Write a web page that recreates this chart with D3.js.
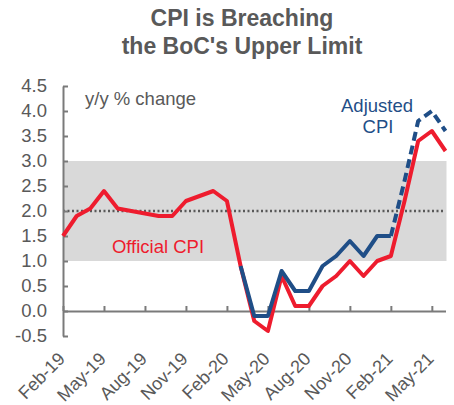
<!DOCTYPE html>
<html>
<head>
<meta charset="utf-8">
<script src="https://cdn.jsdelivr.net/npm/d3@7"></script>
<style>
  body { margin: 0; background: #fff; }
  svg { display: block; font-family: 'Liberation Sans', Arial, sans-serif; }
</style>
</head>
<body>
<script>
const width = 454;
const height = 405;

// months Feb-19 .. Jun-21
const months = ['Feb-19','Mar-19','Apr-19','May-19','Jun-19','Jul-19','Aug-19','Sep-19','Oct-19','Nov-19','Dec-19','Jan-20',
  'Feb-20','Mar-20','Apr-20','May-20','Jun-20','Jul-20','Aug-20','Sep-20','Oct-20','Nov-20','Dec-20','Jan-21',
  'Feb-21','Mar-21','Apr-21','May-21','Jun-21'];
const official = [1.5,1.9,2.05,2.4,2.05,2.0,1.95,1.9,1.9,2.2,2.3,2.4,2.2,0.9,-0.2,-0.4,0.7,0.1,0.1,0.5,0.7,1.0,0.7,1.0,1.1,2.2,3.4,3.6,3.2];
const adjusted = [null,null,null,null,null,null,null,null,null,null,null,null,null,
  0.9,-0.1,-0.1,0.8,0.4,0.4,0.9,1.1,1.4,1.1,1.5,1.5,2.6,3.8,4.0,3.6];
const dashFrom = 24; // adjusted is dashed from Feb-21 on
const xLabels = ['Feb-19','May-19','Aug-19','Nov-19','Feb-20','May-20','Aug-20','Nov-20','Feb-21','May-21'];
const yTicks = [-0.5,0,0.5,1,1.5,2,2.5,3,3.5,4,4.5];
const band = [1, 3];
const target = 2;

const textCol = '#595959';
const axisCol = '#7a7a7a';
const red = '#EE1C2E';
const blue = '#1F4E87';

const svg = d3.select('body').append('svg').attr('width', width).attr('height', height);

const x = d3.scaleLinear().domain([0, months.length - 1]).range([63, 445.5]);
const y = d3.scaleLinear().domain([-0.5, 4.5]).range([336, 86]);

// title
svg.append('text').attr('x', 242).attr('y', 26).attr('text-anchor', 'middle')
  .attr('font-size', 23).attr('font-weight', 'bold').attr('fill', textCol)
  .text('CPI is Breaching');
svg.append('text').attr('x', 242).attr('y', 53.5).attr('text-anchor', 'middle')
  .attr('font-size', 23).attr('font-weight', 'bold').attr('fill', textCol)
  .text("the BoC's Upper Limit");

// shaded band
svg.append('rect')
  .attr('x', x(0)).attr('y', y(band[1]))
  .attr('width', x(months.length - 1) - x(0) + 1)
  .attr('height', y(band[0]) - y(band[1]))
  .attr('fill', '#d9d9d9');

// dotted 2% line
svg.append('line')
  .attr('x1', x(0)).attr('x2', x(months.length - 1))
  .attr('y1', y(target)).attr('y2', y(target))
  .attr('stroke', textCol).attr('stroke-width', 2.5)
  .attr('stroke-dasharray', '2,2.5');

// y axis
const yAxis = d3.axisLeft(y).tickValues(yTicks).tickSize(-5).tickSizeOuter(0)
  .tickPadding(16).tickFormat(d => d.toFixed(1));
const gy = svg.append('g').attr('transform', `translate(${x(0)},0)`).call(yAxis);
gy.select('.domain').attr('stroke', axisCol).attr('stroke-width', 2);
gy.selectAll('.tick line').attr('stroke', axisCol).attr('stroke-width', 2);
gy.selectAll('.tick text').attr('fill', textCol).attr('font-size', 18.5)
  .attr('font-family', "'Liberation Sans', Arial, sans-serif");

// x axis at zero
const tickIdx = xLabels.map(l => months.indexOf(l));
const xAxis = d3.axisBottom(x).tickValues(tickIdx).tickSize(-5).tickSizeOuter(0).tickFormat('');
const gx = svg.append('g').attr('transform', `translate(0,${y(0)})`).call(xAxis);
gx.select('.domain').attr('stroke', axisCol).attr('stroke-width', 2);
gx.selectAll('.tick line').attr('stroke', axisCol).attr('stroke-width', 2);

// x labels below plot
svg.selectAll('.xlab').data(xLabels).enter().append('text')
  .attr('class', 'xlab')
  .attr('text-anchor', 'end')
  .attr('font-size', 18).attr('fill', textCol)
  .attr('transform', d => `translate(${x(months.indexOf(d)) + 3},360) rotate(-45)`)
  .text(d => d);

// lines
const line = d3.line().defined(d => d[1] != null).x(d => x(d[0])).y(d => y(d[1]));

svg.append('path')
  .attr('d', line(official.map((v, i) => [i, v])))
  .attr('fill', 'none').attr('stroke', red).attr('stroke-width', 4)
  .attr('stroke-linejoin', 'round');

svg.append('path')
  .attr('d', line(adjusted.map((v, i) => [i, i <= dashFrom ? v : null])))
  .attr('fill', 'none').attr('stroke', blue).attr('stroke-width', 4)
  .attr('stroke-linejoin', 'round');

svg.append('path')
  .attr('d', line(adjusted.map((v, i) => [i, i >= dashFrom ? v : null])))
  .attr('fill', 'none').attr('stroke', blue).attr('stroke-width', 4)
  .attr('stroke-dasharray', '9,5').attr('stroke-linejoin', 'round');

// annotations
svg.append('text').attr('x', 85).attr('y', 105).attr('font-size', 18.5).attr('fill', textCol)
  .text('y/y % change');
svg.append('text').attr('x', 158).attr('y', 252.5).attr('text-anchor', 'middle')
  .attr('font-size', 18.5).attr('fill', red).text('Official CPI');
svg.append('text').attr('x', 377).attr('y', 111.5).attr('text-anchor', 'middle')
  .attr('font-size', 18.5).attr('fill', blue).text('Adjusted');
svg.append('text').attr('x', 378).attr('y', 132.5).attr('text-anchor', 'middle')
  .attr('font-size', 18.5).attr('fill', blue).text('CPI');
</script>
</body>
</html>
